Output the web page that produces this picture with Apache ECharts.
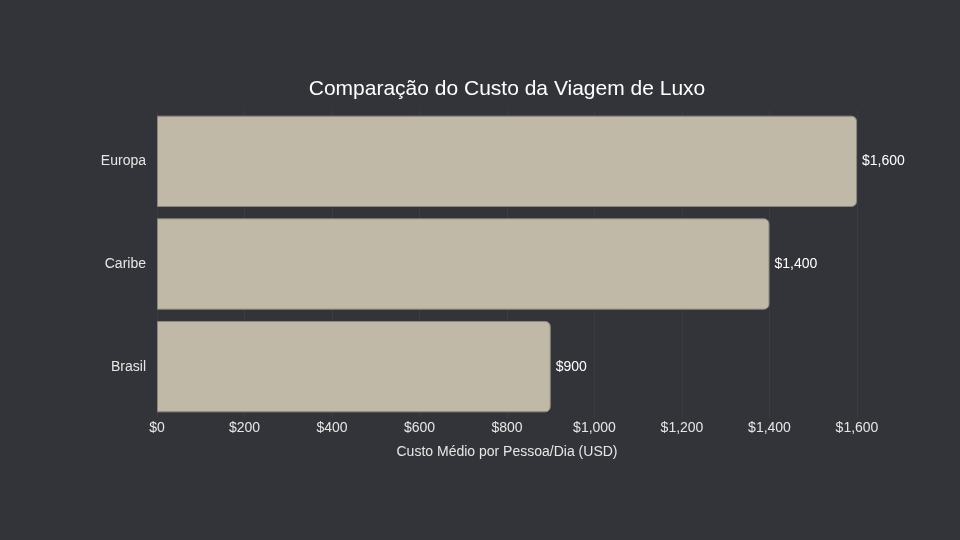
<!DOCTYPE html>
<html>
<head>
<meta charset="utf-8">
<script src="https://cdn.jsdelivr.net/npm/echarts@6/dist/echarts.min.js"></script>
<style>
  html, body {margin: 0; padding: 0; background: #333439;}
  #chart {width: 960px; height: 540px;}
</style>
</head>
<body>
<div id="chart"></div>
<script>
// data
var regions = ['Brasil', 'Caribe', 'Europa'];
var costs = [900, 1400, 1600];

document.addEventListener("DOMContentLoaded", () => {
  var chart = echarts.init(document.getElementById('chart'));
  var fmt = function (v) {
    return '$' + v.toLocaleString('en-US');
  };
  var option = {
    backgroundColor: '#333439',
    textStyle: {fontFamily: 'Liberation Sans, Arial, sans-serif'},
    title: {
      text: 'Comparação do Custo da Viagem de Luxo',
      left: 502, top: 74, textAlign: 'center',
      textStyle: {color: '#ffffff', fontSize: 21, fontWeight: 'normal'}
    },
    grid: {left: 157, right: 103, top: 110, bottom: 122},
    xAxis: {
      type: 'value', min: 0, max: 1600, interval: 200,
      name: 'Custo Médio por Pessoa/Dia (USD)',
      nameLocation: 'middle', nameGap: 27,
      nameTextStyle: {color: '#e6e6e6', fontSize: 14},
      axisLine: {show: false},
      axisTick: {show: false},
      axisLabel: {color: '#e6e6e6', fontSize: 14, margin: 3, formatter: fmt},
      splitLine: {show: true, lineStyle: {color: '#3b3c42', width: 1}}
    },
    yAxis: {
      type: 'category', data: regions,
      axisLine: {show: false},
      axisTick: {show: false},
      axisLabel: {color: '#e6e6e6', fontSize: 14, margin: 11}
    },
    series: [{
      type: 'bar', data: costs,
      barCategoryGap: '11%',
      itemStyle: {color: '#c0b9a8', borderColor: '#8a8679', borderWidth: 1, borderRadius: [0, 5, 5, 0]},
      label: {show: true, position: 'right', color: '#ffffff', fontSize: 14, distance: 5, formatter: function (p) { return fmt(p.value); }}
    }]
  };
  chart.setOption(option);
});
</script>
</body>
</html>
